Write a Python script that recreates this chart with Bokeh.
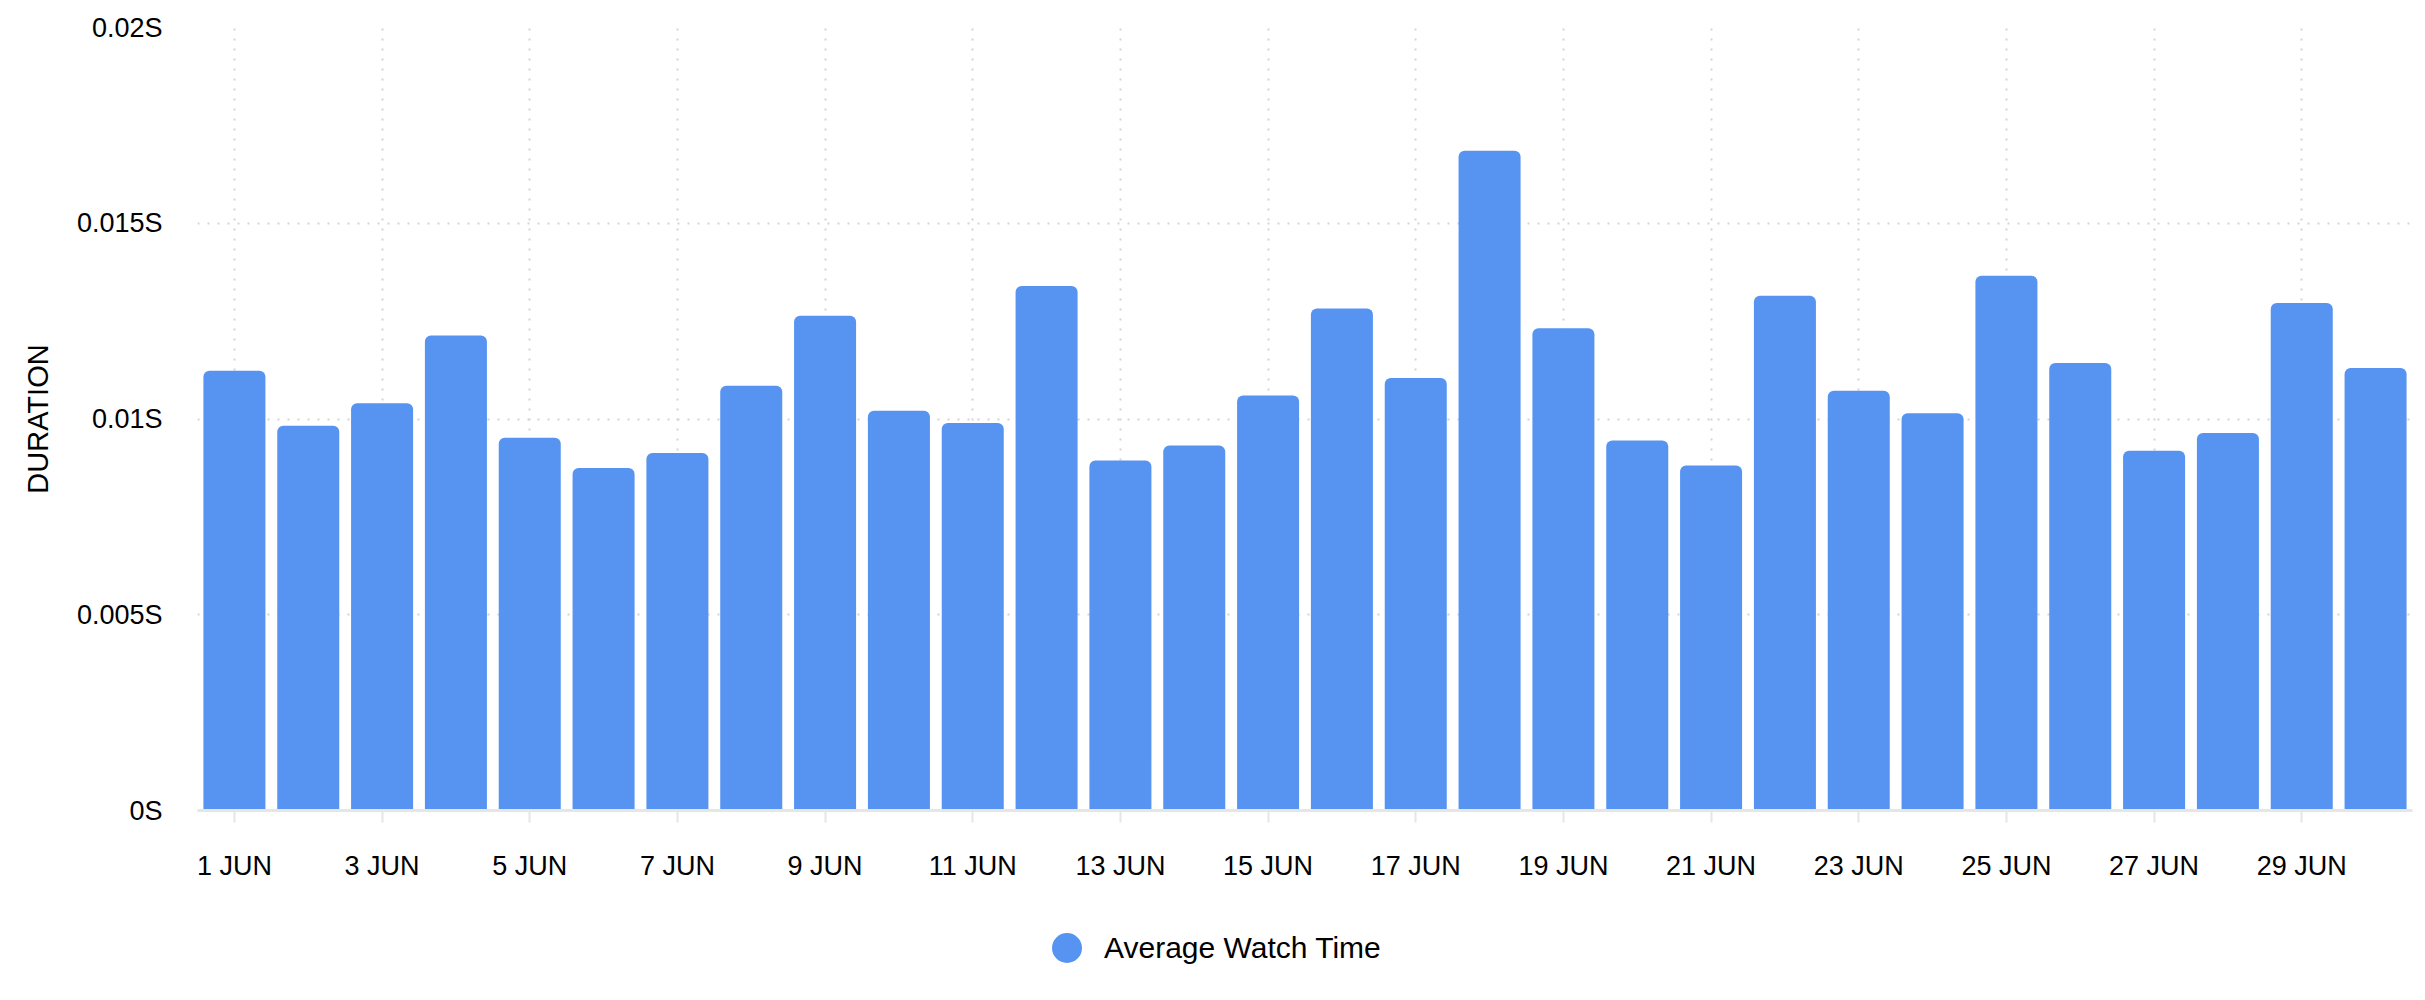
from bokeh.plotting import figure
from bokeh.layouts import column
from bokeh.models import (ColumnDataSource, Range1d, FixedTicker, CustomJSTickFormatter,
                          Legend, LegendItem)
from bokeh.embed import file_html
from bokeh.resources import INLINE

# ---- data ----
days = list(range(1, 31))
day_labels = ["1 JUN", "2 JUN", "3 JUN", "4 JUN", "5 JUN", "6 JUN", "7 JUN", "8 JUN",
              "9 JUN", "10 JUN", "11 JUN", "12 JUN", "13 JUN", "14 JUN", "15 JUN",
              "16 JUN", "17 JUN", "18 JUN", "19 JUN", "20 JUN", "21 JUN", "22 JUN",
              "23 JUN", "24 JUN", "25 JUN", "26 JUN", "27 JUN", "28 JUN", "29 JUN", "30 JUN"]
avg_watch_time = [0.01123, 0.00983, 0.01040, 0.01213, 0.00952, 0.00875, 0.00913, 0.01085,
                  0.01264, 0.01021, 0.00990, 0.01340, 0.00894, 0.00932, 0.01060, 0.01282,
                  0.01105, 0.01685, 0.01232, 0.00945, 0.00881, 0.01315, 0.01072, 0.01015,
                  0.01366, 0.01143, 0.00919, 0.00964, 0.01296, 0.01130]
x_tick_days = [1, 3, 5, 7, 9, 11, 13, 15, 17, 19, 21, 23, 25, 27, 29]
y_ticks = [0, 0.005, 0.01, 0.015, 0.02]
series_name = "Average Watch Time"
y_title = "DURATION"

BAR = "#5794F2"
GRID = "#d4d4d4"
FONT = "Liberation Sans"

src = ColumnDataSource(dict(day=days, value=avg_watch_time))

p = figure(width=2425, height=890, output_backend="svg", toolbar_location=None,
           x_range=Range1d(0.5, 30.5), y_range=Range1d(0, 0.02),
           min_border_left=197, min_border_right=13, min_border_top=27, min_border_bottom=80)
p.outline_line_color = None
p.background_fill_color = "white"
p.border_fill_color = "white"

p.vbar(x="day", top="value", bottom=0, width=0.84, source=src,
       fill_color=BAR, line_color=None, border_radius=(6, 6, 0, 0))

# x axis
xa = p.xaxis[0]
xa.ticker = FixedTicker(ticks=x_tick_days)
xa.major_label_overrides = {d: day_labels[d - 1] for d in x_tick_days}
xa.axis_line_color = "#e6e6e6"
xa.axis_line_width = 3
xa.major_tick_line_color = "#e6e6e6"
xa.major_tick_line_width = 2
xa.major_tick_out = 12
xa.major_tick_in = 0
xa.minor_tick_line_color = None
xa.major_label_standoff = 28
xa.major_label_text_font = FONT
xa.major_label_text_font_size = "27px"
xa.major_label_text_color = "#000000"

# y axis
ya = p.yaxis[0]
ya.ticker = FixedTicker(ticks=y_ticks)
ya.formatter = CustomJSTickFormatter(code="return tick + 'S'")
ya.axis_line_color = None
ya.major_tick_line_color = None
ya.minor_tick_line_color = None
ya.major_label_standoff = 29
ya.major_label_text_font = FONT
ya.major_label_text_font_size = "27px"
ya.major_label_text_color = "#000000"
ya.axis_label = y_title
ya.axis_label_text_font = FONT
ya.axis_label_text_font_size = "29px"
ya.axis_label_text_font_style = "normal"
ya.axis_label_text_color = "#000000"
ya.axis_label_standoff = 20

for g in (p.xgrid[0], p.ygrid[0]):
    g.grid_line_color = GRID
    g.grid_line_width = 2
    g.grid_line_dash = "2 8"

# ---- legend strip (circle marker); the series' points lie outside this strip's view ----
pl = figure(width=2425, height=110, output_backend="svg", toolbar_location=None,
            x_range=Range1d(-1000, -999), y_range=Range1d(-1000, -999),
            x_axis_location=None, y_axis_location=None,
            min_border_left=0, min_border_right=0, min_border_top=0, min_border_bottom=0)
pl.outline_line_color = None
pl.xgrid.visible = False
pl.ygrid.visible = False
leg_r = pl.scatter("day", "value", source=src, marker="circle", fill_color=BAR, line_color=None)
legend = Legend(items=[LegendItem(label=series_name, renderers=[leg_r])],
                location=(832, 15), glyph_width=75, glyph_height=75, label_standoff=-8,
                padding=0, margin=0, border_line_color=None, background_fill_alpha=0,
                label_text_font=FONT, label_text_font_size="30px", label_text_color="#000000")
pl.add_layout(legend, "center")

layout = column(p, pl, spacing=0)
open("out.html", "w").write(file_html(layout, INLINE))
